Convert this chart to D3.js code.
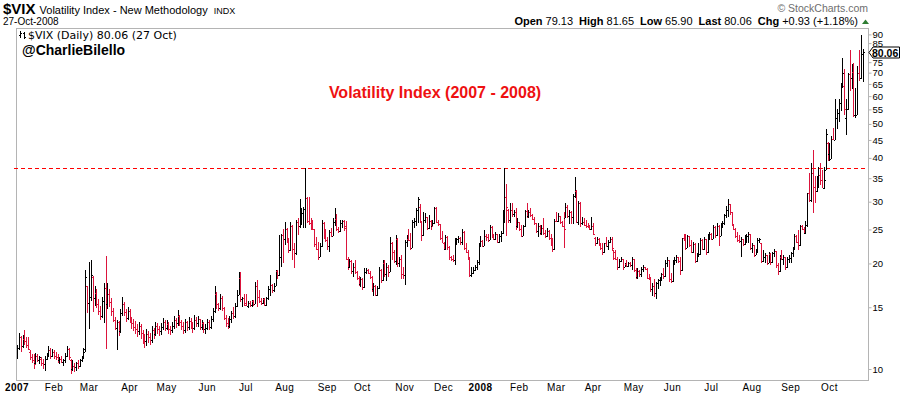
<!DOCTYPE html>
<html>
<head>
<meta charset="utf-8">
<script src="https://cdn.jsdelivr.net/npm/d3@7"></script>
<style>
  body { margin: 0; background: #fff; }
  svg { display: block; }
  text { font-family: Arial, "Liberation Sans", sans-serif; }
</style>
</head>
<body>
<div id="chart"></div>
<script>
/* $VIX daily OHLC bars, Jan 2007 - 27 Oct 2008.
   One line per month in every array. */

// trading days in each month, and the label printed under its first bar
var monthDays = [20, 19, 22, 20, 22, 21, 21, 23, 19, 23, 21, 20,
                 21, 20, 20, 22, 21, 21, 22, 21, 21, 19];
var monthLabels = ["2007", "Feb", "Mar", "Apr", "May", "Jun", "Jul", "Aug", "Sep", "Oct", "Nov", "Dec",
                   "2008", "Feb", "Mar", "Apr", "May", "Jun", "Jul", "Aug", "Sep", "Oct"];

var opens = [
  11.0,11.5,12.3,11.6,12.2,12.0,11.7,11.2,10.8,10.6,10.4,10.9,10.6,10.7,10.4,10.3,10.7,11.0,11.3,10.9,
  11.2,10.9,10.8,10.6,10.7,10.5,10.6,10.9,11.4,10.6,10.0,10.2,10.1,10.4,10.2,10.6,10.8,11.4,17.2,
  15.4,16.0,18.3,15.9,16.5,15.3,14.6,14.2,15.6,17.0,15.3,16.4,15.5,14.6,13.8,13.1,13.6,12.8,14.4,15.3,14.5,14.0,
  14.6,13.9,13.5,13.2,13.0,12.8,13.3,12.7,12.3,12.0,12.6,12.3,12.1,12.9,12.6,13.3,13.0,12.8,13.2,13.6,
  13.1,13.4,13.0,12.9,13.3,13.8,13.5,14.2,13.6,13.3,12.9,13.6,13.2,13.7,13.4,13.1,13.8,13.5,13.9,13.2,13.5,13.0,
  13.1,13.6,13.2,13.9,14.6,16.4,15.3,14.9,15.9,14.9,14.0,13.5,13.3,13.9,14.4,14.2,15.1,16.3,18.2,15.8,15.9,
  15.4,15.1,15.4,15.2,15.6,15.3,17.3,16.0,15.6,15.4,15.8,15.2,15.9,16.9,17.4,16.8,17.3,19.0,18.5,20.9,24.1,
  23.5,25.1,23.2,21.9,25.6,22.0,21.4,26.3,25.5,27.0,27.8,28.6,30.7,26.4,26.1,25.3,25.0,22.7,22.0,20.9,22.5,26.0,24.0,
  23.4,22.4,24.6,24.0,26.2,26.8,25.0,24.8,26.1,26.4,25.6,20.6,19.6,20.3,19.0,19.5,18.9,18.2,17.5,
  18.0,17.1,18.9,19.2,18.8,18.3,16.9,17.3,16.3,17.0,19.2,17.9,20.0,18.6,19.6,18.9,22.9,21.6,20.3,23.5,20.0,20.6,18.6,
  18.5,23.1,23.5,23.4,22.2,26.3,26.5,28.5,29.0,26.3,24.1,26.6,27.2,25.3,26.5,25.6,26.0,28.8,26.3,25.9,23.6,
  22.9,22.0,23.8,22.3,20.8,20.6,20.4,23.3,23.5,23.7,23.0,24.6,22.2,21.6,20.8,18.5,18.8,19.2,19.5,20.2,
  22.5,23.2,22.5,23.9,23.8,23.4,25.4,24.1,23.5,24.2,23.0,23.9,24.4,28.0,31.0,28.4,26.6,28.5,27.6,28.1,25.6,
  26.2,25.0,24.0,25.5,28.2,27.4,28.0,27.5,26.8,26.0,24.7,25.6,24.4,25.3,24.5,23.9,24.8,23.6,22.8,22.0,
  26.5,26.4,27.3,26.2,25.6,27.0,29.0,27.3,28.0,27.2,31.2,32.2,26.3,29.8,26.0,26.3,25.8,25.6,25.4,25.1,
  25.6,23.6,22.8,23.5,22.8,22.2,21.5,22.8,22.5,23.0,23.5,21.8,21.5,20.6,19.5,20.3,20.6,19.6,19.9,19.7,20.0,19.8,
  20.6,19.2,18.3,19.0,18.6,19.3,19.5,19.3,18.2,18.0,16.9,17.2,16.5,17.6,17.9,18.2,18.6,18.4,20.1,20.4,18.0,
  17.8,20.1,20.5,20.9,20.3,19.2,23.6,23.5,22.2,23.9,22.6,21.6,22.7,20.3,21.1,21.3,23.4,22.0,23.5,21.5,24.1,
  24.3,23.5,25.4,24.1,25.6,24.0,25.7,26.0,27.5,28.5,29.5,28.0,25.8,25.1,24.0,23.4,23.2,23.5,22.7,23.8,24.0,24.3,
  22.1,22.6,21.2,21.5,23.4,22.8,20.3,20.9,21.1,20.1,21.3,20.2,21.4,21.7,19.8,19.0,20.8,20.6,20.9,19.5,20.6,
  20.7,21.4,22.0,24.0,23.1,22.6,25.5,25.0,24.4,25.7,31.7,30.3,36.2,33.1,32.1,33.8,35.7,34.5,32.8,37.0,44.2,
  41.0,39.8,45.3,45.1,52.1,53.7,57.5,63.9,64.0,52.0,55.1,69.3,67.6,70.3,53.0,53.1,69.7,67.8,79.13
];

var highs = [
  11.7,12.7,12.4,12.5,12.9,12.3,12.3,11.3,11.0,11.0,11.1,11.0,10.9,10.8,10.7,10.9,11.1,11.6,11.5,11.4,
  11.3,11.2,11.0,10.8,10.9,10.7,11.1,11.6,11.5,10.7,10.6,10.4,10.5,10.6,10.7,10.9,11.5,19.2,17.3,
  20.2,20.5,18.4,17.3,16.9,15.8,15.1,16.0,17.6,21.0,17.6,16.9,15.9,14.9,14.1,13.8,13.7,14.8,16.0,15.5,14.8,15.0,
  14.8,14.1,13.9,13.7,13.4,13.6,13.4,12.9,12.6,13.0,12.8,12.7,13.3,13.1,13.6,13.5,13.3,13.5,14.0,13.8,
  13.8,13.6,13.3,13.6,14.2,14.0,14.7,14.3,13.8,13.6,13.9,13.7,14.1,14.0,13.6,14.3,14.1,14.2,13.9,13.8,13.6,13.4,
  13.9,13.8,14.2,14.9,17.2,16.6,15.4,16.4,16.1,15.0,14.3,14.0,14.2,14.6,15.0,15.4,16.8,18.9,18.9,16.0,16.4,
  16.4,15.6,15.6,15.7,15.7,17.7,17.9,16.8,15.9,15.9,15.9,16.0,17.2,18.5,17.5,17.6,19.2,19.2,24.1,24.3,25.0,
  26.3,25.3,23.6,26.3,25.8,22.8,26.6,27.0,30.5,28.8,28.9,37.5,31.0,31.0,27.0,26.6,25.0,23.8,23.0,22.8,26.6,26.3,25.0,
  23.8,24.9,25.2,27.0,28.7,27.6,25.4,26.6,26.6,26.6,26.4,20.9,20.6,20.4,20.0,20.4,19.0,18.4,18.3,
  18.2,19.4,19.4,19.3,19.0,18.4,17.6,17.4,17.2,19.6,19.3,20.4,20.4,20.0,19.8,23.8,23.0,21.8,24.1,23.6,20.9,21.1,19.5,
  23.3,24.1,25.0,24.5,26.6,27.0,28.7,31.0,29.5,26.4,28.1,27.8,27.2,27.5,26.6,26.6,29.0,28.9,26.6,25.9,24.7,
  23.0,24.1,24.0,22.5,21.0,21.2,23.6,23.6,24.0,23.8,25.0,24.7,22.8,21.8,20.8,19.6,19.6,19.8,20.4,22.8,
  24.0,23.3,24.9,24.3,24.3,25.8,25.6,24.3,24.6,24.2,24.3,24.7,28.4,37.5,33.8,28.6,29.7,29.7,28.4,28.8,27.0,
  26.3,25.8,25.7,28.4,29.7,28.4,28.8,27.6,27.1,26.0,26.0,25.7,25.7,27.0,24.9,25.2,24.9,24.3,23.6,26.8,
  28.0,27.8,27.4,26.4,28.0,29.7,29.3,28.4,28.2,31.5,35.3,32.4,30.1,29.9,27.2,27.0,26.6,26.0,25.7,27.2,
  26.0,23.8,23.8,23.6,22.8,22.8,22.9,23.8,23.3,23.8,23.8,21.9,21.8,20.9,20.6,20.9,20.6,20.1,20.4,20.2,20.2,20.9,
  20.6,19.4,19.4,19.1,19.6,19.8,19.6,19.4,18.7,18.3,17.6,18.1,17.7,18.1,18.3,18.8,19.4,20.5,20.9,20.5,18.8,
  20.4,20.9,21.1,20.9,20.9,23.6,24.3,24.3,24.1,23.9,23.3,23.0,22.8,21.4,22.8,23.6,23.5,23.8,23.5,24.3,24.6,
  24.4,25.7,25.5,26.0,25.7,26.0,26.4,27.7,29.2,30.6,29.5,28.1,25.9,25.2,24.6,24.1,23.8,23.5,24.1,24.3,24.6,24.3,
  22.8,22.6,22.0,23.6,23.6,22.8,21.8,21.4,21.1,21.6,21.4,21.6,22.0,21.7,20.0,21.1,21.8,21.1,20.9,20.9,21.1,
  21.6,22.3,24.3,24.1,24.9,25.8,25.8,25.4,26.5,31.8,36.2,38.7,42.2,35.4,35.4,37.7,38.8,37.0,37.7,48.4,44.3,
  44.2,46.2,48.8,58.8,55.2,58.8,65.5,77.1,71.5,59.0,69.8,81.2,74.0,74.8,63.3,73.2,81.2,89.5,81.65
];

var lows = [
  10.7,11.3,11.2,11.5,11.7,11.5,11.3,10.6,10.4,10.0,10.3,10.5,10.3,10.2,10.0,9.9,10.6,10.8,10.7,10.8,
  10.7,10.6,10.4,10.3,10.4,10.2,10.4,10.8,10.6,9.7,9.9,9.8,9.9,10.0,10.1,10.5,10.7,11.2,14.4,
  13.0,15.6,14.5,15.1,14.9,14.3,13.8,14.0,13.5,11.4,14.8,15.0,14.2,13.6,12.9,11.3,12.4,12.7,14.2,14.2,13.6,13.8,
  13.5,13.0,12.8,12.6,12.3,12.5,12.2,11.8,11.5,11.6,11.9,11.7,11.9,12.2,12.4,12.6,12.4,12.5,12.9,12.8,
  12.9,12.6,12.5,12.7,13.0,13.1,13.3,13.3,12.9,12.6,12.7,12.8,12.9,13.0,12.7,12.9,13.2,13.2,12.9,12.9,12.7,12.6,
  12.9,12.9,13.0,13.6,14.4,14.8,14.6,14.7,14.6,13.8,13.2,13.0,13.1,13.5,13.9,14.0,15.0,16.3,15.5,15.0,15.1,
  15.1,14.9,15.0,15.0,15.1,15.3,15.0,15.4,15.2,15.3,15.1,15.1,15.7,16.1,16.5,16.6,17.2,18.0,18.4,19.6,20.0,
  22.6,22.8,21.4,21.7,20.5,19.4,21.2,24.1,25.3,25.7,25.2,25.2,26.0,25.8,24.9,24.9,22.3,21.8,20.4,20.8,22.3,23.5,23.0,
  21.8,21.6,23.8,23.9,25.5,24.7,24.5,24.6,25.2,24.8,20.4,19.2,19.4,18.7,18.3,18.7,17.9,17.2,17.1,
  16.8,17.0,18.6,18.6,18.1,16.6,16.1,16.1,16.1,16.9,17.6,17.8,18.3,17.8,18.3,18.9,20.4,20.0,19.8,19.6,19.6,18.1,18.0,
  17.4,22.3,23.2,21.8,22.1,25.2,25.5,26.0,26.0,23.2,24.0,26.0,24.9,25.1,24.9,25.5,25.9,26.0,25.6,23.3,22.8,
  21.8,21.9,21.8,20.5,20.3,20.2,19.8,22.6,22.8,22.6,22.6,21.8,21.4,20.5,18.3,18.3,18.7,19.0,19.2,19.8,
  22.4,22.3,22.4,23.2,23.0,23.3,23.6,23.4,23.4,22.8,22.8,23.1,24.3,26.0,24.0,26.0,26.0,27.2,27.2,24.9,25.3,
  24.7,23.8,23.9,25.4,26.9,26.9,27.2,26.6,25.7,24.4,23.8,24.1,24.1,24.1,23.6,23.8,23.3,22.5,21.6,21.8,
  26.3,26.3,25.9,25.4,22.2,26.9,27.0,25.9,25.9,25.9,30.8,26.0,25.7,25.4,25.8,25.5,25.2,25.3,24.9,24.9,
  24.1,22.5,22.7,22.5,21.8,21.1,21.4,22.3,21.8,22.8,21.8,20.4,20.4,19.2,19.4,20.2,19.2,19.5,19.5,19.6,19.6,19.2,
  18.9,18.0,18.1,18.3,18.3,18.9,19.1,18.0,17.9,16.6,16.2,16.0,15.8,16.9,17.3,17.8,18.1,18.3,19.6,17.7,17.6,
  17.7,19.8,20.0,20.0,18.5,19.0,23.2,21.8,22.1,22.3,21.4,21.4,20.0,20.2,20.9,21.2,21.8,21.9,21.2,21.4,23.3,
  23.3,23.5,23.6,24.0,22.5,24.0,25.3,25.7,26.9,27.2,27.5,25.5,24.9,23.6,23.1,22.8,20.9,22.5,22.6,22.8,22.8,21.8,
  21.4,20.9,21.1,21.4,22.8,20.0,20.2,20.0,19.8,20.0,19.8,20.0,20.9,19.4,18.5,18.9,20.4,19.8,19.2,19.4,20.0,
  20.0,20.9,21.8,22.8,21.8,22.5,24.9,24.2,24.3,25.4,29.9,29.9,27.8,29.7,32.0,32.8,33.5,32.8,32.7,36.9,39.2,
  39.3,39.7,45.0,45.0,48.3,50.5,54.6,63.3,53.0,46.5,54.9,61.9,63.0,52.2,51.9,53.0,66.4,67.0,65.9
];

var closes = [
  11.5,12.3,11.6,12.2,12.0,11.7,11.4,10.8,10.6,10.3,10.9,10.6,10.8,10.4,10.3,10.7,11.0,11.3,10.9,11.2,
  10.9,10.8,10.6,10.7,10.5,10.6,10.9,11.4,10.8,10.0,10.2,10.1,10.4,10.2,10.6,10.8,11.2,18.3,15.4,
  16.0,18.5,15.9,16.5,15.3,14.6,14.2,15.6,17.0,15.3,16.4,15.5,14.6,13.8,13.1,13.6,12.8,14.4,15.3,14.5,14.0,14.6,
  13.9,13.5,13.2,13.0,12.8,13.3,12.7,12.3,12.0,12.6,12.3,12.1,12.9,12.6,13.3,13.0,12.8,13.2,13.6,13.1,
  13.4,13.0,12.9,13.3,13.8,13.5,14.2,13.6,13.3,12.9,13.6,13.2,13.7,13.4,13.1,13.8,13.5,13.9,13.2,13.5,13.0,13.1,
  13.6,13.2,13.9,14.6,16.4,15.3,14.9,15.9,14.9,14.0,13.5,13.3,13.9,14.4,14.2,15.1,16.3,18.2,15.8,15.9,15.2,
  15.1,15.4,15.2,15.6,15.3,17.3,16.0,15.6,15.4,15.8,15.2,15.9,16.9,17.4,16.8,17.3,19.0,18.5,20.9,24.1,23.5,
  25.1,23.2,21.9,25.6,22.0,21.4,26.3,25.5,27.0,27.8,28.6,30.7,26.4,26.1,25.3,25.0,22.7,22.0,20.9,22.5,26.0,24.0,23.4,
  22.4,24.6,24.0,26.2,26.8,25.0,24.8,26.1,26.4,25.2,20.6,19.6,20.3,19.0,19.5,18.9,18.2,17.5,18.0,
  17.1,18.9,19.2,18.8,18.3,16.9,17.3,16.3,17.0,19.2,17.9,20.0,18.6,19.6,18.9,22.9,21.6,20.3,23.5,20.0,20.6,18.6,18.5,
  23.1,23.5,23.4,22.2,26.3,26.5,28.5,30.6,26.3,24.1,26.6,27.2,25.3,26.5,25.6,26.0,28.8,26.3,25.9,23.6,22.9,
  22.0,23.8,22.3,20.8,20.6,20.4,23.3,23.5,23.7,23.0,24.6,22.2,21.6,20.8,18.5,18.8,19.2,19.5,20.2,22.5,
  23.2,22.5,23.9,23.8,23.4,25.4,24.1,23.5,24.2,23.0,23.9,24.4,28.0,31.0,29.0,26.6,28.5,27.6,28.1,25.6,26.2,
  25.0,24.0,25.5,28.2,27.4,28.0,27.5,26.8,26.0,24.7,25.6,24.4,25.3,24.5,23.9,24.8,23.6,22.8,22.0,26.5,
  26.4,27.3,26.2,25.6,25.0,29.0,27.3,28.0,27.2,31.2,32.2,26.3,29.8,26.0,26.3,25.8,25.6,25.4,25.1,25.6,
  24.3,22.8,23.5,22.8,22.2,21.5,22.8,22.5,23.0,23.5,22.1,20.7,20.6,19.5,20.3,20.6,19.6,19.9,19.7,20.0,19.8,20.6,
  19.2,18.3,19.0,18.6,19.3,19.5,19.3,18.2,18.0,16.9,17.2,16.5,17.6,17.9,18.2,18.6,18.4,20.1,20.4,18.0,17.8,
  20.1,20.5,20.9,20.3,19.2,23.6,23.5,22.2,23.9,22.6,21.6,22.7,20.3,21.1,21.3,23.4,22.0,23.5,21.5,24.1,24.3,
  23.5,25.4,24.1,25.6,24.0,25.7,26.0,27.5,28.5,29.5,28.0,25.8,25.1,24.0,23.4,23.2,23.5,22.7,23.8,24.0,24.3,22.1,
  22.6,21.2,21.5,23.4,23.5,20.3,20.9,21.1,20.1,21.3,20.2,21.4,21.7,19.8,19.0,20.8,20.6,20.9,19.5,20.6,20.7,
  21.4,22.0,24.0,23.1,22.6,25.5,25.0,24.4,25.7,31.7,30.3,36.2,33.1,32.1,33.8,35.7,34.5,32.8,34.7,46.7,39.4,
  39.8,45.3,45.1,52.1,53.7,57.5,63.9,70.0,55.0,55.1,69.3,67.6,70.3,53.0,53.1,69.7,67.8,79.13,80.06
];

// 80 sits under the last-value tag, so it is not printed
var yTicks = [10, 15, 20, 25, 30, 35, 40, 45, 50, 55, 60, 65, 70, 75, 85, 90];
var resistance = 37.4;   // the Aug-2007 spike high, dashed red line
var lastClose = 80.06;
var headerStats = [["Open", "79.13"], ["High", "81.65"], ["Low", "65.90"], ["Last", "80.06"], ["Chg", "+0.93 (+1.18%)"]];


var width = 900,
    height = 396;

// plot frame (window.top is read-only, so no bare "top" here)
var plotLeft = 16, plotRight = 868, plotTop = 28, plotBottom = 381;

var upColor = "#000000",
    downColor = "#dc143c",
    frameColor = "#b4b4b4";

var n = Math.min(opens.length, highs.length, lows.length, closes.length);

var x = d3.scaleLinear()
    .domain([0, 458])
    .range([17, 862.7]);

var y = d3.scaleLog()
    .domain([10, 90])
    .range([369, 34.4]);

var svg = d3.select("#chart").append("svg")
    .attr("width", width)
    .attr("height", height)
    .style("background", "#fff");

svg.append("defs").append("clipPath")
    .attr("id", "plotClip")
  .append("rect")
    .attr("x", plotLeft + 1).attr("y", plotTop + 1)
    .attr("width", plotRight - plotLeft - 1).attr("height", plotBottom - plotTop - 2);


/*** header texts ***/
var title = svg.append("text").attr("x", 3).attr("y", 14);
title.append("tspan").style("font-weight", "bold").style("font-size", "15px").text("$VIX");
title.append("tspan").attr("dx", 4).style("font-size", "11px").text("Volatility Index - New Methodology");
title.append("tspan").attr("dx", 6).style("font-size", "9px").text("INDX");

svg.append("text").attr("x", 3).attr("y", 25)
    .style("font-size", "10px")
    .text("27-Oct-2008");

svg.append("text").attr("x", 868).attr("y", 12)
    .attr("text-anchor", "end")
    .style("font-size", "10.5px")
    .style("fill", "#6e6e6e")
    .text("\u00a9 StockCharts.com");

var stats = svg.append("text").attr("x", 858).attr("y", 25)
    .attr("text-anchor", "end")
    .style("font-size", "11px");
headerStats.forEach(function(d, i) {
    stats.append("tspan").attr("dx", i ? 6 : 0).style("font-weight", "bold").text(d[0]);
    stats.append("tspan").attr("dx", 3).text(d[1]);
});

// little green up arrow after the change
svg.append("path")
    .attr("d", "M862,24 L865.5,19.5 L869,24 Z")
    .style("fill", "#2e7d32");


/*** frame ***/
var frame = svg.append("g")
    .style("stroke", frameColor)
    .style("shape-rendering", "crispEdges");
frame.append("line").attr("x1", plotLeft).attr("x2", plotRight).attr("y1", plotTop + 0.5).attr("y2", plotTop + 0.5);
frame.append("line").attr("x1", plotLeft + 0.5).attr("x2", plotLeft + 0.5).attr("y1", plotTop).attr("y2", plotBottom);
frame.append("line").attr("x1", plotLeft).attr("x2", plotRight + 1).attr("y1", plotBottom - 0.5).attr("y2", plotBottom - 0.5);
frame.append("line").attr("x1", plotRight + 0.5).attr("x2", plotRight + 0.5).attr("y1", plotTop).attr("y2", plotBottom);


/*** legend and tag inside the plot ***/
var icon = svg.append("g").style("shape-rendering", "crispEdges").style("fill", "#000");
icon.append("rect").attr("x", 20).attr("y", 31).attr("width", 1).attr("height", 7);
icon.append("rect").attr("x", 19).attr("y", 35).attr("width", 1).attr("height", 1);
icon.append("rect").attr("x", 21).attr("y", 33).attr("width", 1).attr("height", 1);
icon.append("rect").attr("x", 24).attr("y", 32).attr("width", 1).attr("height", 7);
icon.append("rect").attr("x", 23).attr("y", 33).attr("width", 1).attr("height", 1);
icon.append("rect").attr("x", 25).attr("y", 37).attr("width", 1).attr("height", 1);

svg.append("text").attr("x", 28).attr("y", 39)
    .style("font-family", "'DejaVu Sans', Verdana, sans-serif")
    .style("font-size", "11px")
    .text("$VIX (Daily) " + lastClose.toFixed(2) + " (27 Oct)");

svg.append("text").attr("x", 22).attr("y", 55)
    .style("font-weight", "bold")
    .style("font-size", "14px")
    .text("@CharlieBilello");

svg.append("text").attr("x", 435).attr("y", 98)
    .attr("text-anchor", "middle")
    .style("font-weight", "bold")
    .style("font-size", "16px")
    .style("fill", "#ee1111")
    .text("Volatility Index (2007 - 2008)");


/*** right axis ***/
var yAxis = d3.axisRight(y)
    .tickValues(yTicks)
    .tickSize(3)
    .tickPadding(1)
    .tickFormat(d3.format("d"));

svg.append("g")
    .attr("transform", "translate(" + (plotRight + 0.5) + ",0)")
    .call(yAxis)
    .call(function(g) {
        g.select(".domain").remove();
        g.selectAll(".tick line").style("stroke", frameColor);
        g.selectAll(".tick text")
            .style("font-family", "Arial, 'Liberation Sans', sans-serif")
            .style("font-size", "9.5px")
            .style("fill", "#000");
    });


/*** bottom month labels ***/
var monthStart = [];
var acc = 0;
monthDays.forEach(function(d) { monthStart.push(acc); acc += d; });

svg.append("g").selectAll("text")
    .data(monthLabels)
    .enter().append("text")
      .attr("x", function(d, i) { return x(monthStart[i]); })
      .attr("y", 391)
      .attr("text-anchor", "middle")
      .style("font-size", "10px")
      .style("letter-spacing", "0.4px")
      .style("font-weight", function(d) { return d.length === 4 && !isNaN(+d) ? "bold" : "normal"; })
      .text(function(d) { return d; });


/*** dashed resistance line ***/
svg.append("line")
    .attr("x1", plotLeft - 2).attr("x2", plotRight)
    .attr("y1", Math.round(y(resistance)) + 0.5).attr("y2", Math.round(y(resistance)) + 0.5)
    .style("stroke", "#ff0000")
    .style("stroke-width", 1)
    .style("stroke-dasharray", "4,3")
    .style("shape-rendering", "crispEdges");


/*** OHLC bars ***/
var bars = d3.range(n).map(function(i) {
    return {
        i: i,
        o: opens[i], h: highs[i], l: lows[i], c: closes[i],
        up: i === 0 || closes[i] >= closes[i - 1]
    };
});

var barG = svg.append("g")
    .attr("clip-path", "url(#plotClip)")
    .style("shape-rendering", "crispEdges");

var bar = barG.selectAll("g.bar")
    .data(bars)
    .enter().append("g")
      .attr("class", "bar")
      .style("fill", function(d) { return d.up ? upColor : downColor; });

// high-low stick
bar.append("rect")
    .attr("x", function(d) { return Math.round(x(d.i)); })
    .attr("y", function(d) { return Math.round(y(d.h)); })
    .attr("width", 1)
    .attr("height", function(d) { return Math.max(1, Math.round(y(d.l)) - Math.round(y(d.h))); });

// open tick on the left
bar.append("rect")
    .attr("x", function(d) { return Math.round(x(d.i)) - 1; })
    .attr("y", function(d) { return Math.round(y(d.o)); })
    .attr("width", 1)
    .attr("height", 1);

// close tick on the right
bar.append("rect")
    .attr("x", function(d) { return Math.round(x(d.i)) + 1; })
    .attr("y", function(d) { return Math.round(y(d.c)); })
    .attr("width", 1)
    .attr("height", 1);


/*** last value tag on the axis ***/
var ly = Math.round(y(lastClose)) + 0.5;
svg.append("path")
    .attr("d", "M" + (plotRight + 1) + "," + ly + " L" + (plotRight + 5) + "," + (ly - 5.5) +
               " L899.5," + (ly - 5.5) + " L899.5," + (ly + 5.5) + " L" + (plotRight + 5) + "," + (ly + 5.5) + " Z")
    .style("fill", "#fff")
    .style("stroke", "#000");

svg.append("text")
    .attr("x", plotRight + 4).attr("y", ly + 4)
    .style("font-weight", "bold")
    .style("font-size", "10.5px")
    .text(lastClose.toFixed(2));
</script>
</body>
</html>
